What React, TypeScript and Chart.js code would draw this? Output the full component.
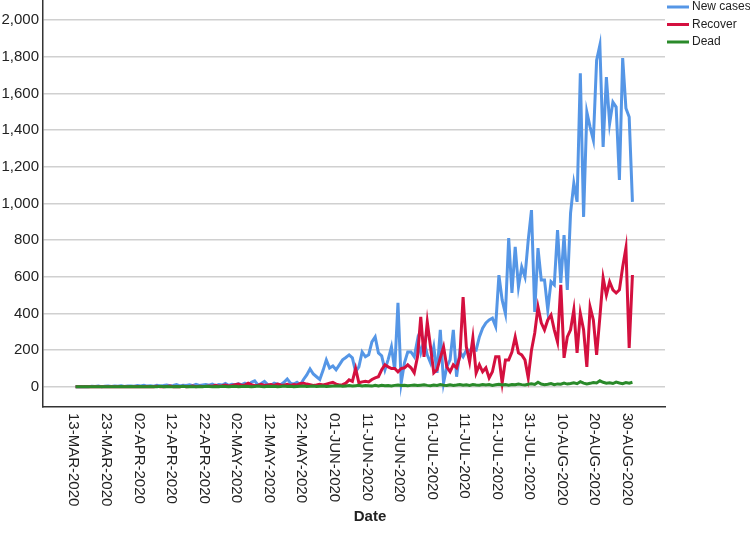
import { useEffect, useRef } from 'react';
import { Chart, registerables } from 'chart.js';

Chart.register(...registerables);

const tickLabels = [
  '13-MAR-2020', '23-MAR-2020', '02-APR-2020', '12-APR-2020', '22-APR-2020', '02-MAY-2020',
  '12-MAY-2020', '22-MAY-2020', '01-JUN-2020', '11-JUN-2020', '21-JUN-2020', '01-JUL-2020',
  '11-JUL-2020', '21-JUL-2020', '31-JUL-2020', '10-AUG-2020', '20-AUG-2020', '30-AUG-2020',
];
const tickStepDays = 10;
const yTickValues = [0, 200, 400, 600, 800, 1000, 1200, 1400, 1600, 1800, 2000];

// daily values, 13-MAR-2020 .. 31-AUG-2020
const newCases = [
  0, 1, 0, 2, 1, 3, 2, 4, 1, 3,
  5, 2, 4, 3, 6, 2, 5, 4, 3, 7,
  5, 8, 4, 6, 3, 9, 5, 7, 10, 6,
  8, 12, 5, 9, 7, 11, 6, 14, 8, 10,
  12, 9, 15, 7, 13, 10, 18, 8, 14, 11,
  16, 12, 20, 9, 25, 33, 10, 18, 30, 12,
  8, 20, 15, 12, 25, 43, 20, 15, 25, 10,
  40, 65, 98, 70, 55, 40, 90, 147, 103, 114,
  93, 120, 147, 160, 174, 158, 82, 109, 190, 164,
  175, 245, 272, 185, 169, 93, 150, 218, 93, 458,
  22, 131, 190, 190, 164, 256, 185, 250, 175, 131,
  218, 76, 311, 22, 109, 147, 311, 55, 190, 164,
  200, 200, 205, 200, 272, 320, 349, 365, 375, 330,
  609, 473, 400, 812, 512, 763, 545, 654, 600, 800,
  964, 409, 757, 583, 583, 420, 573, 556, 855, 567,
  828, 529, 948, 1111, 1009, 1710, 927, 1499, 1417, 1346,
  1782, 1864, 1308, 1689, 1437, 1553, 1526, 1128, 1793, 1520,
  1472, 1009,
];

const recovered = [
  0, 0, 0, 0, 1, 0, 0, 0, 1, 0,
  0, 1, 0, 0, 2, 0, 1, 0, 0, 2,
  1, 0, 2, 1, 0, 3, 1, 0, 2, 4,
  1, 2, 0, 3, 1, 2, 5, 1, 3, 2,
  2, 5, 3, 8, 4, 6, 10, 5, 8, 12,
  15, 8, 10, 20, 12, 6, 9, 14, 8, 10,
  12, 8, 15, 10, 9, 14, 8, 12, 10, 18,
  20, 15, 12, 8, 10, 14, 10, 15, 20, 25,
  15, 10, 12, 20, 38, 30, 100, 22, 27, 30,
  27, 40, 49, 55, 93, 120, 109, 100, 100, 82,
  100, 104, 120, 104, 76, 164, 381, 164, 354, 218,
  76, 93, 158, 218, 109, 82, 120, 104, 164, 490,
  218, 136, 267, 76, 120, 82, 104, 49, 82, 164,
  164, 22, 147, 147, 190, 272, 185, 174, 147, 49,
  200, 294, 436, 349, 311, 365, 392, 311, 245, 556,
  158, 272, 311, 420, 185, 400, 311, 109, 436, 365,
  174, 380, 594, 501, 573, 529, 512, 529, 654, 757,
  212, 610,
];

const dead = [
  0, 0, 0, 0, 0, 0, 1, 0, 0, 1,
  0, 1, 0, 1, 2, 0, 1, 2, 1, 0,
  2, 1, 1, 2, 0, 1, 3, 1, 2, 1,
  0, 2, 1, 3, 1, 2, 0, 1, 2, 1,
  3, 2, 1, 2, 1, 3, 2, 1, 2, 3,
  1, 2, 3, 2, 1, 2, 4, 2, 1, 3,
  2, 3, 1, 2, 4, 2, 3, 1, 2, 3,
  4, 2, 3, 5, 2, 3, 4, 2, 3, 5,
  4, 6, 3, 5, 7, 4, 6, 8, 5, 7,
  6, 4, 8, 5, 9, 6, 7, 5, 8, 10,
  7, 9, 6, 8, 10, 7, 9, 11, 8, 6,
  10, 8, 12, 9, 7, 11, 8, 10, 13, 9,
  11, 8, 12, 10, 9, 13, 10, 12, 8, 11,
  14, 10, 12, 9, 13, 11, 15, 12, 10, 14,
  17, 13, 25, 15, 12, 14, 18, 12, 16, 14,
  20, 15, 18, 22, 17, 28, 20, 16, 19, 24,
  21, 33, 25, 20, 22, 18, 26, 21, 17, 23,
  20, 25,
];

const seriesNames = ['New cases', 'Recover', 'Dead'];
const seriesColors = ['#5596e6', '#d4103f', '#2a8a2a'];
const axisTitle = 'Date';

const FONT = "'Liberation Sans', Arial, sans-serif";
const TEXT = '#222222';

const toPoints = (arr: number[]) => arr.map((y, i) => ({ x: i, y }));

const overlayPlugin = {
  id: 'overlay',
  afterDraw(chart: any) {
    const ctx = chart.ctx as CanvasRenderingContext2D;
    const xs = chart.scales.x;
    const area = chart.chartArea;
    ctx.save();
    // x tick labels, rotated clockwise (read top to bottom)
    ctx.fillStyle = TEXT;
    ctx.font = `15px ${FONT}`;
    ctx.textAlign = 'left';
    ctx.textBaseline = 'middle';
    tickLabels.forEach((label, k) => {
      const px = xs.getPixelForValue(k * tickStepDays);
      ctx.save();
      ctx.translate(px - 2, area.bottom + 6);
      ctx.rotate(Math.PI / 2);
      ctx.fillText(label, 0, 0);
      ctx.restore();
    });
    // axis title
    ctx.font = `bold 15px ${FONT}`;
    ctx.textAlign = 'center';
    ctx.fillText(axisTitle, chart.width / 2 - 5, 517);
    // legend
    ctx.font = `12px ${FONT}`;
    ctx.textAlign = 'left';
    seriesNames.forEach((name, i) => {
      const y = 7 + i * 17.5;
      ctx.strokeStyle = seriesColors[i];
      ctx.lineWidth = 3;
      ctx.beginPath();
      ctx.moveTo(area.right + 2, y);
      ctx.lineTo(area.right + 24, y);
      ctx.stroke();
      ctx.fillStyle = TEXT;
      ctx.fillText(name, area.right + 27, y);
    });
    ctx.restore();
  },
};

export default function App() {
  const ref = useRef<HTMLCanvasElement | null>(null);

  useEffect(() => {
    const canvas = ref.current;
    if (!canvas) return;
    const series = [newCases, recovered, dead];
    const chart = new Chart(canvas, {
      type: 'line',
      data: {
        datasets: series.map((arr, i) => ({
          label: seriesNames[i],
          data: toPoints(arr),
          borderColor: seriesColors[i],
          backgroundColor: seriesColors[i],
          borderWidth: 3,
          pointRadius: 0,
          tension: 0,
          fill: false,
          order: 3 - i,
        })),
      },
      options: {
        animation: false,
        responsive: false,
        devicePixelRatio: 1,
        layout: { padding: { left: 0, right: 85, top: 0, bottom: 0 } },
        plugins: {
          legend: { display: false },
          tooltip: { enabled: false },
        },
        scales: {
          x: {
            type: 'linear',
            min: -10,
            max: 181,
            grid: { display: false, drawTicks: false },
            border: { display: true, color: '#333333', width: 1.5 },
            ticks: { display: false },
            afterFit: (s: any) => { s.height = 126; s.paddingLeft = 0; s.paddingRight = 0; },
          },
          y: {
            type: 'linear',
            min: -110,
            max: 2110,
            grid: { display: true, color: '#d0d0d0', lineWidth: 1.5, drawTicks: false },
            border: { display: true, color: '#333333', width: 1.5 },
            afterBuildTicks: (s: any) => { s.ticks = yTickValues.map((v) => ({ value: v })); },
            ticks: {
              autoSkip: false,
              padding: 4,
              color: TEXT,
              font: { family: FONT, size: 15 },
              callback: (v: any) => Number(v).toLocaleString('en-US'),
            },
            afterFit: (s: any) => { s.width = 43; s.paddingTop = 0; s.paddingBottom = 0; },
          },
        },
      },
      plugins: [overlayPlugin],
    } as any);
    return () => chart.destroy();
  }, []);

  return (
    <div style={{ position: 'absolute', left: 0, top: 0, width: 750, height: 533, background: '#fff' }}>
      <canvas ref={ref} width={750} height={533} style={{ display: 'block' }} />
    </div>
  );
}
